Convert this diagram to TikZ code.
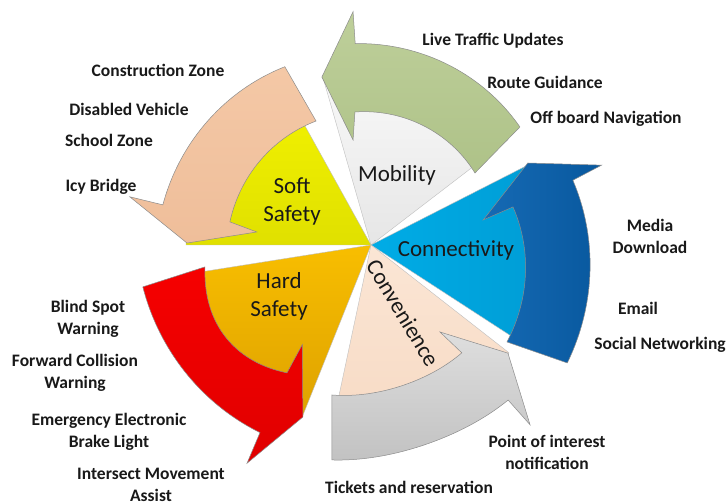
\documentclass[tikz,border=0pt]{standalone}
\usepackage{fontspec}
\setmainfont{Carlito}
\definecolor{mobA}{RGB}{250,250,250}
\definecolor{mobB}{RGB}{230,230,230}
\definecolor{softA}{RGB}{244,244,0}
\definecolor{softB}{RGB}{224,224,0}
\definecolor{conA}{RGB}{0,172,230}
\definecolor{conB}{RGB}{0,156,212}
\definecolor{convA}{RGB}{251,230,213}
\definecolor{convB}{RGB}{247,218,196}
\definecolor{hardA}{RGB}{248,190,0}
\definecolor{hardB}{RGB}{222,162,0}
\definecolor{peachA}{RGB}{244,200,166}
\definecolor{peachB}{RGB}{239,190,154}
\definecolor{greenA}{RGB}{190,207,154}
\definecolor{greenB}{RGB}{174,194,136}
\definecolor{blueA}{RGB}{22,106,180}
\definecolor{blueB}{RGB}{8,88,158}
\definecolor{grayA}{RGB}{222,222,222}
\definecolor{grayB}{RGB}{194,194,194}
\definecolor{redA}{RGB}{246,0,0}
\definecolor{redB}{RGB}{224,0,0}
\begin{document}
\begin{tikzpicture}[x=1pt,y=1pt,
  sector/.style={draw=black!25, line width=0.4pt},
  arrowshape/.style={draw=black!45, line width=0.5pt},
  hub/.style={font=\fontsize{23}{28}\selectfont, text=black!90, align=center, inner sep=0pt},
  item/.style={font=\bfseries\fontsize{17.5}{22}\selectfont, text=black!90, align=center, inner sep=0pt}]
\useasboundingbox (0,0) rectangle (728,502);
\fill[white] (0,0) rectangle (728,502);

\begin{scope}[shift={(371,257)}]
% sectors
\path[sector, top color=mobA, bottom color=mobB] (0,0) -- (37.5:172) arc[start angle=37.5, end angle=106, radius=172] -- cycle;
\path[sector, top color=softA, bottom color=softB] (0,0) -- (119:185) arc[start angle=119, end angle=180, radius=185] -- cycle;
\path[sector, left color=conA, right color=conB] (0,0) -- (-33:175) arc[start angle=-33, end angle=27, radius=175] -- cycle;
\path[sector, top color=convA, bottom color=convB] (0,0) -- (-102:175) arc[start angle=-102, end angle=-38, radius=175] -- cycle;
\path[sector, top color=hardA, bottom color=hardB] (0,0) -- (189:184) arc[start angle=189, end angle=248.2, radius=184] -- cycle;

% arrows
\path[arrowshape, top color=peachA, bottom color=peachB]
  (115.8:198)
  -- plot[domain=0:1, samples=40, variable=\s] ({115.8+53.3*\s}:{198+14*\s})
  -- (168.7:246) -- (179.4:184) -- (173.5:115) -- (170.7:143)
  -- plot[domain=0:1, samples=40, variable=\s] ({170.7-56.8*\s}:{143-7.4*\s})
  -- cycle;
\path[arrowshape, top color=greenA, bottom color=greenB]
  (38.4:190)
  -- plot[domain=0:1, samples=40, variable=\s] ({38.4+56.1*\s}:{190+12*\s})
  -- (94.4:234) -- (106.3:175) -- (99.7:106.5) -- (96.9:134)
  -- plot[domain=0:1, samples=40, variable=\s] ({96.9-62.2*\s}:{134-7.5*\s})
  -- cycle;
\path[arrowshape, left color=blueA, right color=blueB]
  (-31:229)
  -- plot[domain=0:1, samples=40, variable=\s] ({-31+48.8*\s}:{229-17*\s})
  -- (19.1:244) -- (27.6:177) -- (12.6:115) -- (15:147)
  -- plot[domain=0:1, samples=40, variable=\s] ({15-50.5*\s}:{147+20*\s})
  -- cycle;
\path[arrowshape, top color=grayA, bottom color=grayB]
  (-100.3:218.5)
  -- plot[domain=0:1, samples=40, variable=\s] ({-100.3+51.8*\s}:{218.5-11.5*\s-6*sin(180*\s)})
  -- (-48.5:240) -- (-38.3:174.5) -- (-51.6:111) -- (-49.9:141)
  -- plot[domain=0:1, samples=40, variable=\s] ({-49.9-54.7*\s}:{141+14*\s-4*sin(180*\s)})
  -- cycle;
\path[arrowshape, top color=redA, bottom color=redB]
  (190.4:232)
  -- plot[domain=0:1, samples=40, variable=\s] ({190.4+49*\s}:{232-14*\s})
  -- (240.4:251) -- (248.4:185) -- (235.4:121) -- (236.7:153)
  -- plot[domain=0:1, samples=40, variable=\s] ({236.7-49.2*\s}:{153+14.5*\s+12*sin(180*\s)})
  -- cycle;
\end{scope}

% hub labels
\node[hub] (mob) at (397,327) {Mobility};
\node[hub] (soft) at (292,301) {Soft\\Safety};
\node[hub] (conn) at (456,252) {Connectivity};
\node[hub] (hard) at (279,206) {Hard\\Safety};
\node[hub, rotate=-59] (conv) at (403,189) {Convenience};

% item labels
\node[item] (live) at (493,461) {Live Traffic Updates};
\node[item] (route) at (545,420) {Route Guidance};
\node[item] (offb) at (606,383) {Off board Navigation};
\node[item] (constr) at (158,432) {Construction Zone};
\node[item] (disab) at (129,393) {Disabled Vehicle};
\node[item] (school) at (109,362) {School Zone};
\node[item] (icy) at (101,315) {Icy Bridge};
\node[item] (media) at (650,266) {Media\\Download};
\node[item] (email) at (638,194) {Email};
\node[item] (social) at (660,157) {Social Networking};
\node[item] (blind) at (88,183) {Blind Spot\\Warning};
\node[item] (fcw) at (75,129) {Forward Collision\\Warning};
\node[item] (eebl) at (109,70) {Emergency Electronic\\Brake Light};
\node[item] (ima) at (151,17) {Intersect Movement\\Assist};
\node[item] (poi) at (547,50) {Point of interest\\notification};
\node[item] (tick) at (409,15) {Tickets and reservation};
\end{tikzpicture}
\end{document}
